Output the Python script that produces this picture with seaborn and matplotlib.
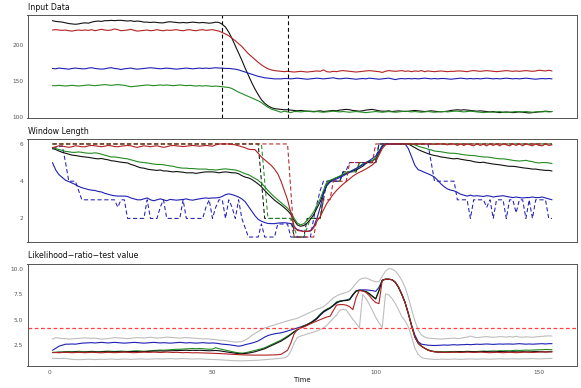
import matplotlib
matplotlib.use("Agg")
import matplotlib.pyplot as plt
import seaborn as sns

sns.set_theme(style="white")
plt.rcParams['font.family'] = ['DejaVu Sans']

time = list(range(1, 155))

# ---------------- Input Data ----------------
top_black = [
    234, 233, 232.5, 232, 231, 230, 229.5, 229, 229.5, 230.5,
    231, 230.5, 232, 233, 233.5, 233, 234, 234, 234.5, 234,
    234.5, 234.5, 234, 233.5, 234, 233, 233.5, 233, 232, 232,
    231.5, 232, 231.5, 231, 231, 232, 232.5, 232, 231.5, 231,
    231.5, 231, 231.5, 232, 231.5, 231, 231.5, 231, 230.5, 231,
    232, 231.5, 229, 225, 218, 209, 199, 189, 179, 168,
    158, 148, 139, 131, 124, 119, 115.5, 113, 111.5, 111,
    110.5, 110, 110, 109.5, 109, 108.5, 109, 108.5, 108, 108,
    107.5, 108, 108.5, 107.5, 108, 108.5, 109, 108.5, 109.5, 110,
    110.5, 110, 109, 108.5, 108, 108.5, 109.5, 110, 110.5, 109.5,
    108.5, 108, 108, 108.5, 107.5, 108, 108.5, 108, 107.5, 108,
    108.5, 109, 108.5, 108, 107.5, 108, 108.5, 108, 107.5, 107,
    107.5, 108, 109, 109.5, 110, 109.5, 110, 109.5, 109, 108.5,
    108, 108.5, 108, 107.5, 107, 107.5, 106.5, 106, 106.5, 107,
    106.5, 106, 106.5, 107, 106.5, 106, 105.5, 106, 106.5, 107,
    107.5, 108, 107.5, 107.5]
top_red = [
    221, 221.5, 221, 220.5, 221, 220, 219.5, 220.5, 221, 220.5,
    221, 220.5, 221.5, 220, 221, 222, 221, 220.5, 221, 222.5,
    221.5, 220, 220.5, 221, 222, 220.5, 219.5, 220, 220.5, 221,
    220, 220.5, 221.5, 220.5, 220, 221, 220.5, 221, 221.5, 220.5,
    220, 221, 221.5, 220.5, 220, 221, 221.5, 220.5, 221, 221.5,
    220.5, 219.5, 217.5, 215.5, 213, 209.5, 206, 202, 198, 193,
    188, 184, 180, 176, 172.5, 169.5, 167, 165.5, 164.5, 164,
    163.5, 163, 163.5, 163, 162.5, 163, 163.5, 163, 162.5, 163,
    163.5, 164, 163.5, 165.5, 163, 162.5, 163.5, 163, 164, 164.5,
    164, 163.5, 163, 162.5, 163, 163.5, 164, 164.5, 164, 163.5,
    163, 162, 163.5, 164.5, 164, 163.5, 164, 164.5, 163.5, 164,
    163, 164, 163.5, 164.5, 163, 164, 163.5, 163, 163.5, 164,
    163.5, 163, 163.5, 163.5, 164, 164, 163.5, 163, 164, 164.5,
    164, 163.5, 164, 164.5, 164, 163.5, 163, 163.5, 164, 164.5,
    164, 163.5, 164, 163.5, 164, 164.5, 164, 163.5, 164, 165,
    164.5, 164, 165, 164]
top_blue = [
    167.5, 167, 168, 167.5, 167, 166.5, 167.5, 168, 167.5, 167,
    167, 168, 168.5, 167.5, 167, 166.5, 167, 168, 168.5, 167.5,
    167, 166, 167, 167.5, 168, 167, 166.5, 167, 167.5, 168,
    168.5, 168, 167.5, 167, 167.5, 168, 167.5, 167, 166.5, 167,
    167.5, 168, 167.5, 167, 167.5, 168, 167.5, 168, 167.5, 168,
    168.5, 168, 168, 167.5, 167.5, 167, 166.5, 165.5, 164, 162.5,
    161, 159.5, 158, 156.5, 155.5, 154.5, 154, 153.5, 153, 153,
    153, 153.5, 153.5, 153, 153.5, 154, 153.5, 153, 152.5, 153,
    153.5, 154, 153.5, 153, 153.5, 154, 154.5, 153.5, 153, 153.5,
    154, 153.5, 153, 152.5, 153, 153.5, 153, 154, 153.5, 153,
    152.5, 153, 153.5, 154, 153, 152, 153, 153.5, 153, 153.5,
    153, 153.5, 153, 153.5, 154, 153.5, 153, 153.5, 153, 153.5,
    153.5, 153, 152.5, 153, 153.5, 154, 153.5, 153, 153.5, 153,
    153.5, 153, 153.5, 154, 153.5, 153, 153.5, 153, 153.5, 154,
    153.5, 153, 153.5, 153, 153.5, 154, 153.5, 153, 152.5, 153,
    153.5, 153, 153.5, 153]
top_green = [
    143.5, 143.5, 144, 143.5, 143, 143.5, 144, 143.5, 143, 143.5,
    144, 144.5, 144, 143.5, 144, 144.5, 145, 144.5, 144, 144.5,
    145, 144.5, 144, 143, 142, 142.5, 143, 143.5, 144, 144.5,
    144, 143.5, 144, 144.5, 144, 144.5, 144, 143.5, 144, 144.5,
    144, 143.5, 144, 143.5, 143, 143.5, 143, 143.5, 143, 142.5,
    143, 142.5, 142, 141.5, 141, 139.5, 137, 134.5, 132.5, 130.5,
    128.5, 126.5, 124.5, 122.5, 120, 116.5, 113.5, 111, 109.5, 108,
    106.5, 108, 107, 106, 107.5, 107.5, 107, 107.5, 108, 107.5,
    107, 107.5, 107, 106.5, 107, 107.5, 108, 107.5, 107, 107.5,
    107, 106.5, 107, 107.5, 107, 106.5, 106, 106.5, 107, 107.5,
    107, 106.5, 107, 107.5, 107, 106.5, 107, 107.5, 108, 107.5,
    107, 107.5, 107, 106.5, 107, 107.5, 107, 106.5, 107, 107.5,
    107.5, 107, 107.5, 108, 108, 107.5, 107, 107.5, 108, 107.5,
    107, 106.5, 106, 106.5, 107, 106.5, 107, 107.5, 106.5, 106,
    106.5, 107, 107.5, 107, 107, 107.5, 107, 106.5, 107, 107.5,
    107, 107.5, 107, 107.5]
change_points = [53, 73]

# ---------------- Window Length ----------------
mid_black = [
    5.75, 5.7, 5.62, 5.55, 5.5, 5.45, 5.4, 5.38, 5.35, 5.32,
    5.3, 5.28, 5.25, 5.22, 5.2, 5.22, 5.18, 5.15, 5.1, 5.08,
    5.05, 5.02, 5.0, 4.98, 4.9, 4.85, 4.78, 4.72, 4.7, 4.65,
    4.62, 4.6, 4.58, 4.6, 4.55, 4.55, 4.52, 4.5, 4.52, 4.5,
    4.48, 4.45, 4.45, 4.45, 4.42, 4.45, 4.48, 4.5, 4.5, 4.5,
    4.48, 4.45, 4.48, 4.5, 4.48, 4.45, 4.45, 4.4, 4.3, 4.22,
    4.18, 4.1, 3.98, 3.85, 3.7, 3.5, 3.32, 3.15, 2.98, 2.85,
    2.72, 2.58, 2.42, 2.22, 1.9, 1.65, 1.58, 1.62, 1.75, 1.95,
    2.2, 2.55, 2.9, 3.35, 3.8, 4.0, 4.1, 4.18, 4.25, 4.35,
    4.42, 4.5, 4.55, 4.6, 4.7, 4.8, 4.95, 5.05, 5.1, 5.2,
    5.5, 5.85, 6.0, 6.0, 6.0, 6.0, 6.0, 6.0, 6.0, 6.0,
    5.9, 5.8, 5.7, 5.62, 5.55, 5.48, 5.42, 5.38, 5.35, 5.3,
    5.28, 5.25, 5.22, 5.2, 5.22, 5.18, 5.15, 5.12, 5.1, 5.05,
    5.02, 5.0, 5.02, 4.98, 4.95, 4.92, 4.9, 4.88, 4.85, 4.82,
    4.8, 4.8, 4.78, 4.75, 4.72, 4.7, 4.68, 4.65, 4.65, 4.62,
    4.6, 4.58, 4.58, 4.55]
mid_green = [
    5.8, 5.75, 5.7, 5.65, 5.6, 5.58, 5.55, 5.55, 5.57, 5.55,
    5.52, 5.5, 5.5, 5.52, 5.5, 5.45, 5.4, 5.35, 5.3, 5.3,
    5.28, 5.25, 5.22, 5.2, 5.15, 5.1, 5.05, 5.02, 5.0, 4.98,
    4.95, 4.92, 4.9, 4.9, 4.88, 4.85, 4.82, 4.8, 4.75, 4.72,
    4.7, 4.7, 4.68, 4.68, 4.66, 4.65, 4.65, 4.65, 4.62, 4.62,
    4.6, 4.62, 4.65, 4.66, 4.64, 4.62, 4.6, 4.55, 4.48, 4.4,
    4.35, 4.25, 4.15, 4.05, 3.9, 3.7, 3.5, 3.32, 3.15, 3.0,
    2.85, 2.7, 2.55, 2.35, 2.0, 1.75, 1.65, 1.72, 1.9, 2.1,
    2.35, 2.7, 3.05, 3.5, 3.9, 4.05, 4.12, 4.2, 4.28, 4.38,
    4.45, 4.52, 4.6, 4.68, 4.8, 4.92, 5.02, 5.08, 5.12, 5.25,
    5.6, 5.9, 6.0, 6.0, 6.0, 6.0, 6.0, 6.0, 6.0, 6.0,
    6.0, 5.95, 5.88, 5.82, 5.78, 5.72, 5.68, 5.62, 5.6, 5.58,
    5.55, 5.52, 5.5, 5.5, 5.48, 5.45, 5.42, 5.4, 5.38, 5.38,
    5.35, 5.32, 5.3, 5.3, 5.28, 5.25, 5.22, 5.2, 5.2, 5.18,
    5.15, 5.12, 5.1, 5.08, 5.1, 5.12, 5.08, 5.05, 5.0, 4.98,
    5.0, 5.0, 4.98, 4.95]
mid_blue = [
    5.0, 4.6, 4.35, 4.2, 4.05, 3.98, 3.9, 3.82, 3.72, 3.65,
    3.6, 3.55, 3.52, 3.5, 3.45, 3.42, 3.35, 3.3, 3.25, 3.22,
    3.2, 3.2, 3.2, 3.18, 3.1, 3.05, 3.0, 3.0, 3.05, 3.1,
    3.0, 2.95, 3.0, 3.05, 3.0, 2.95, 3.02, 3.0, 2.98, 3.0,
    3.02, 3.05, 3.0, 2.98, 3.02, 3.05, 3.08, 3.1, 3.08, 3.1,
    3.1, 3.12, 3.18, 3.28, 3.32, 3.28, 3.22, 3.15, 3.05, 2.9,
    2.65, 2.4, 2.15, 1.95, 1.85, 1.78, 1.73, 1.72, 1.72, 1.75,
    1.76, 1.77, 1.75, 1.72, 1.5, 1.4, 1.35, 1.3, 1.3, 1.35,
    1.55, 2.0, 2.6, 3.3, 3.75, 3.95, 4.05, 4.12, 4.2, 4.28,
    4.38, 4.48, 4.58, 4.68, 4.78, 4.88, 4.98, 5.1, 5.22, 5.35,
    5.6, 5.9, 6.0, 6.0, 6.0, 6.0, 6.0, 6.0, 6.0, 5.75,
    5.3, 4.85, 4.62, 4.55, 4.47, 4.4, 4.32, 4.22, 4.05, 3.85,
    3.7, 3.58, 3.52, 3.48, 3.4, 3.3, 3.25, 3.2, 3.25, 3.2,
    3.22, 3.2, 3.18, 3.22, 3.2, 3.15, 3.18, 3.2, 3.22, 3.18,
    3.15, 3.12, 3.15, 3.12, 3.1, 3.12, 3.12, 3.15, 3.12, 3.12,
    3.15, 3.1, 3.05, 3.0]
mid_red = [
    5.8, 5.85, 5.9, 5.88, 5.85, 5.82, 5.85, 5.9, 5.88, 5.85,
    5.85, 5.9, 5.92, 5.9, 5.88, 5.85, 5.88, 5.92, 5.9, 5.86,
    5.85, 5.88, 5.9, 5.92, 5.9, 5.85, 5.82, 5.86, 5.9, 5.88,
    5.85, 5.88, 5.9, 5.86, 5.82, 5.85, 5.9, 5.92, 5.9, 5.88,
    5.86, 5.88, 5.9, 5.92, 5.9, 5.88, 5.9, 5.92, 5.9, 5.88,
    5.95, 6.0, 6.0, 6.0, 6.0, 5.98, 5.95, 5.9, 5.85, 5.8,
    5.72, 5.7, 5.7, 5.5, 5.3, 5.15, 5.0, 4.85, 4.65, 4.4,
    4.0, 3.5, 3.0, 2.3, 1.6, 1.35, 1.33, 1.3, 1.3, 1.32,
    1.5, 1.85, 2.1, 2.45, 2.8, 3.05, 3.3, 3.5, 3.68, 3.84,
    3.98, 4.12, 4.27, 4.38, 4.48, 4.56, 4.66, 4.76, 4.88, 5.05,
    5.4, 5.75, 5.95, 6.0, 6.0, 6.0, 6.0, 6.0, 6.0, 6.0,
    6.0, 6.0, 6.0, 6.0, 6.0, 6.0, 6.0, 5.98, 6.0, 6.0,
    6.0, 5.95, 6.0, 6.0, 5.92, 6.0, 5.92, 6.0, 5.95, 5.9,
    6.0, 5.92, 5.98, 5.9, 6.0, 5.92, 6.0, 5.9, 6.0, 5.95,
    5.9, 6.0, 5.92, 6.0, 5.9, 6.0, 5.95, 5.9, 6.0, 5.92,
    5.9, 6.0, 5.92, 5.95]
mid_red_dash = [
    6, 6, 6, 6, 6, 6, 6, 6, 6, 6,
    6, 6, 6, 6, 6, 6, 6, 6, 6, 6,
    6, 6, 6, 6, 6, 6, 6, 6, 6, 6,
    6, 6, 6, 6, 6, 6, 6, 6, 6, 6,
    6, 6, 6, 6, 6, 6, 6, 6, 6, 6,
    6, 6, 6, 6, 6, 6, 6, 6, 6, 6,
    6, 6, 6, 6, 6, 6, 6, 6, 6, 6,
    6, 6, 6, 3.5, 1, 1, 1, 1, 1, 1,
    1, 2, 2, 3, 3, 3, 4, 4, 4, 4,
    4, 5, 5, 5, 5, 5, 5, 5, 5, 6,
    6, 6, 6, 6, 6, 6, 6, 6, 6, 6,
    6, 6, 6, 6, 6, 6, 6, 6, 6, 6,
    6, 6, 6, 6, 6, 6, 6, 6, 6, 6,
    6, 6, 6, 6, 6, 6, 6, 6, 6, 6,
    6, 6, 6, 6, 6, 6, 6, 6, 6, 6,
    6, 6, 6, 6]
mid_black_dash = [
    6, 6, 6, 6, 6, 6, 6, 6, 6, 6,
    6, 6, 6, 6, 6, 6, 6, 6, 6, 6,
    6, 6, 6, 6, 6, 6, 6, 6, 6, 6,
    6, 6, 6, 6, 6, 6, 6, 6, 6, 6,
    6, 6, 6, 6, 6, 6, 6, 6, 6, 6,
    6, 6, 6, 6, 6, 6, 6, 6, 6, 6,
    6, 6, 6, 6, 4, 2, 2, 2, 2, 2,
    2, 2, 2, 2, 1, 1, 1, 1, 2, 2,
    2, 2, 2, 3, 4, 4, 4, 4, 4, 4.5,
    4.5, 4.5, 4.5, 4.5, 5, 5, 5, 5, 5, 5,
    6, 6, 6, 6, 6, 6, 6, 6, 6, 6,
    6, 6, 6, 6, 6, 6, 6, 6, 6, 6,
    6, 6, 6, 6, 6, 6, 6, 6, 6, 6,
    6, 6, 6, 6, 6, 6, 6, 6, 6, 6,
    6, 6, 6, 6, 6, 6, 6, 6, 6, 6,
    6, 6, 6, 6]
mid_green_dash = [
    6, 6, 6, 6, 6, 6, 6, 6, 6, 6,
    6, 6, 6, 6, 6, 6, 6, 6, 6, 6,
    6, 6, 6, 6, 6, 6, 6, 6, 6, 6,
    6, 6, 6, 6, 6, 6, 6, 6, 6, 6,
    6, 6, 6, 6, 6, 6, 6, 6, 6, 6,
    6, 6, 6, 6, 6, 6, 6, 6, 6, 6,
    6, 6, 6, 6, 6, 4, 2, 2, 2, 2,
    2, 2, 2, 2, 1.5, 1, 1, 1, 1.5, 2,
    2, 2, 2, 3.5, 4, 4, 4, 4, 4, 4.5,
    4.5, 4.5, 4.5, 4.5, 5, 5, 5, 5, 5, 5,
    6, 6, 6, 6, 6, 6, 6, 6, 6, 6,
    6, 6, 6, 6, 6, 6, 6, 6, 6, 6,
    6, 6, 6, 6, 6, 6, 6, 6, 6, 6,
    6, 6, 6, 6, 6, 6, 6, 6, 6, 6,
    6, 6, 6, 6, 6, 6, 6, 6, 6, 6,
    6, 6, 6, 6]
mid_blue_dash = [
    5.75, 5.8, 5.85, 5.9, 5.0, 4.0, 4.0, 4.0, 3.5, 3.0,
    3, 3, 3, 3, 3, 3, 3, 3, 3, 3,
    2.6, 3, 3, 2, 2, 2, 2, 2, 2, 3,
    2, 2, 2, 2.6, 3, 2, 2, 2, 2, 2,
    3, 2, 2, 2, 2, 2, 2, 2.6, 3, 2,
    2.6, 3, 3, 2, 3, 2.6, 2, 3, 2, 1.5,
    1, 1, 1, 1, 1.7, 1, 1, 1, 1, 1.7,
    1.7, 1.7, 1.7, 1, 1, 1, 1, 1, 1, 1,
    2, 2.8, 3.5, 4, 4, 4, 4, 4, 4, 4.5,
    4.6, 5, 5, 5, 5, 5, 5, 5, 5, 5,
    6, 6, 6, 6, 6, 6, 6, 6, 6, 6,
    6, 6, 6, 6, 6, 6, 5, 4, 4, 4,
    4, 4, 4, 4, 3, 3, 3, 3, 2, 3,
    3, 3, 3, 2.6, 3, 2, 3, 3, 3, 2,
    3, 3, 2.3, 3, 3, 2, 3, 2, 3, 3,
    3, 3, 2, 2]

# ---------------- Likelihood-ratio-test value ----------------
bot_blue = [
    2.0, 2.2, 2.4, 2.5, 2.6, 2.6, 2.62, 2.6, 2.65, 2.7,
    2.72, 2.75, 2.75, 2.72, 2.75, 2.78, 2.75, 2.72, 2.75, 2.78,
    2.75, 2.72, 2.7, 2.72, 2.75, 2.78, 2.75, 2.72, 2.7, 2.72,
    2.75, 2.78, 2.75, 2.72, 2.75, 2.72, 2.7, 2.72, 2.75, 2.78,
    2.75, 2.72, 2.75, 2.72, 2.7, 2.72, 2.75, 2.72, 2.7, 2.72,
    2.7, 2.65, 2.6, 2.58, 2.55, 2.5, 2.45, 2.4, 2.45, 2.55,
    2.62, 2.7, 2.8, 2.92, 3.1, 3.3, 3.45, 3.55, 3.62, 3.67,
    3.72, 3.8, 3.9, 4.0, 4.1, 4.2, 4.3, 4.42, 4.55, 4.7,
    4.85, 5.1, 5.45, 5.75, 5.95, 6.15, 6.4, 6.65, 6.82, 6.9,
    6.95, 7.05, 7.45, 7.85, 7.95, 7.95, 7.95, 7.92, 7.88, 7.8,
    8.2, 8.9, 9.0, 9.0, 8.95, 8.7, 8.2, 7.5, 6.7, 5.6,
    4.45, 3.5, 2.85, 2.6, 2.55, 2.5, 2.48, 2.47, 2.48, 2.5,
    2.52, 2.5, 2.52, 2.55, 2.52, 2.55, 2.55, 2.58, 2.55, 2.58,
    2.6, 2.58, 2.6, 2.62, 2.6, 2.58, 2.6, 2.62, 2.6, 2.62,
    2.62, 2.6, 2.62, 2.65, 2.62, 2.6, 2.62, 2.6, 2.62, 2.65,
    2.65, 2.62, 2.65, 2.65]
bot_green = [
    1.78, 1.8, 1.82, 1.85, 1.85, 1.88, 1.85, 1.88, 1.9, 1.88,
    1.85, 1.88, 1.9, 1.88, 1.85, 1.88, 1.9, 1.92, 1.9, 1.88,
    1.9, 1.92, 1.9, 1.88, 1.9, 1.92, 1.95, 1.92, 1.9, 1.92,
    1.95, 1.98, 2.0, 2.02, 2.0, 2.02, 2.05, 2.08, 2.1, 2.1,
    2.12, 2.15, 2.15, 2.18, 2.15, 2.18, 2.15, 2.12, 2.1, 2.12,
    2.25, 2.15, 2.08, 2.0, 1.95, 1.88, 1.8, 1.75, 1.72, 1.75,
    1.82, 1.9, 1.98, 2.05, 2.15, 2.25, 2.4, 2.55, 2.7, 2.85,
    3.0, 3.2, 3.4, 3.6, 3.85, 4.05, 4.25, 4.4, 4.55, 4.72,
    4.95, 5.2, 5.55, 5.85, 6.05, 6.2, 6.45, 6.75, 6.85, 6.9,
    6.92, 7.0, 7.5, 7.85, 7.9, 7.88, 7.8, 7.6, 7.35, 7.1,
    7.9, 8.9, 9.0, 9.0, 8.95, 8.7, 8.2, 7.5, 6.7, 5.6,
    4.4, 3.3, 2.7, 2.4, 2.2, 2.05, 1.95, 1.88, 1.85, 1.85,
    1.85, 1.86, 1.85, 1.88, 1.86, 1.85, 1.88, 1.9, 1.88, 1.86,
    1.88, 1.9, 1.92, 1.9, 1.92, 1.94, 1.92, 1.95, 1.94, 1.96,
    1.95, 1.98, 2.0, 1.98, 2.0, 2.02, 2.0, 2.02, 2.05, 2.05,
    2.05, 2.08, 2.06, 2.05]
bot_black = [
    1.78, 1.78, 1.8, 1.8, 1.82, 1.8, 1.82, 1.84, 1.82, 1.8,
    1.82, 1.84, 1.85, 1.84, 1.82, 1.84, 1.86, 1.85, 1.84, 1.85,
    1.86, 1.85, 1.84, 1.85, 1.86, 1.88, 1.86, 1.85, 1.86, 1.88,
    1.9, 1.92, 1.92, 1.94, 1.92, 1.94, 1.95, 1.96, 1.98, 1.98,
    2.0, 2.0, 1.98, 2.0, 1.98, 2.0, 1.98, 1.96, 1.95, 1.96,
    1.98, 1.95, 1.9, 1.85, 1.8, 1.75, 1.7, 1.66, 1.65, 1.68,
    1.72, 1.78, 1.85, 1.95, 2.05, 2.15, 2.3, 2.45, 2.6, 2.75,
    2.9, 3.1, 3.3, 3.55, 3.8, 4.0, 4.2, 4.35, 4.5, 4.68,
    4.9, 5.15, 5.5, 5.8, 6.0, 6.15, 6.4, 6.7, 6.82, 6.88,
    6.9, 6.98, 7.45, 7.82, 7.9, 7.85, 7.78, 7.58, 7.3, 7.05,
    7.85, 8.9, 9.0, 9.0, 8.95, 8.7, 8.2, 7.5, 6.7, 5.6,
    4.4, 3.3, 2.7, 2.4, 2.2, 2.02, 1.92, 1.85, 1.82, 1.82,
    1.8, 1.82, 1.84, 1.82, 1.85, 1.86, 1.84, 1.86, 1.88, 1.85,
    1.84, 1.86, 1.88, 1.86, 1.85, 1.84, 1.86, 1.88, 1.86, 1.85,
    1.84, 1.86, 1.85, 1.84, 1.86, 1.85, 1.84, 1.86, 1.88, 1.86,
    1.85, 1.84, 1.86, 1.85]
bot_red = [
    1.78, 1.78, 1.76, 1.78, 1.8, 1.78, 1.76, 1.78, 1.8, 1.78,
    1.76, 1.78, 1.8, 1.78, 1.76, 1.75, 1.78, 1.8, 1.78, 1.76,
    1.78, 1.8, 1.82, 1.8, 1.78, 1.76, 1.78, 1.8, 1.82, 1.8,
    1.8, 1.82, 1.8, 1.78, 1.8, 1.82, 1.8, 1.78, 1.8, 1.78,
    1.76, 1.78, 1.76, 1.75, 1.76, 1.75, 1.74, 1.72, 1.72, 1.7,
    1.7, 1.68, 1.66, 1.65, 1.62, 1.6, 1.58, 1.56, 1.55, 1.54,
    1.54, 1.52, 1.52, 1.53, 1.52, 1.52, 1.53, 1.54, 1.55, 1.56,
    1.6, 1.8, 2.0, 2.7, 3.6, 4.05, 4.2, 4.3, 4.45, 4.6,
    4.75, 4.88, 5.0, 5.15, 5.28, 5.35, 5.9, 6.45, 6.5, 6.5,
    6.45, 6.3, 6.0, 7.2, 7.9, 7.85, 7.7, 7.4, 7.0, 6.7,
    6.6, 8.9, 9.0, 9.0, 8.95, 8.7, 8.2, 7.5, 6.7, 5.6,
    4.4, 3.3, 2.7, 2.4, 2.2, 2.0, 1.9, 1.85, 1.82, 1.8,
    1.8, 1.78, 1.8, 1.82, 1.8, 1.78, 1.8, 1.82, 1.8, 1.78,
    1.8, 1.82, 1.8, 1.78, 1.76, 1.78, 1.8, 1.78, 1.76, 1.78,
    1.8, 1.78, 1.76, 1.78, 1.8, 1.82, 1.8, 1.78, 1.8, 1.82,
    1.84, 1.82, 1.84, 1.85]
bot_upper = [
    3.1, 3.25, 3.2, 3.15, 3.15, 3.1, 3.12, 3.15, 3.18, 3.2,
    3.22, 3.2, 3.18, 3.2, 3.15, 3.1, 3.12, 3.15, 3.2, 3.25,
    3.22, 3.2, 3.18, 3.15, 3.18, 3.2, 3.25, 3.22, 3.2, 3.25,
    3.28, 3.25, 3.2, 3.22, 3.25, 3.3, 3.28, 3.25, 3.22, 3.2,
    3.22, 3.25, 3.22, 3.2, 3.18, 3.15, 3.12, 3.15, 3.1, 3.08,
    3.05, 3.0, 2.98, 2.95, 2.9, 2.85, 2.8, 2.82, 2.85, 3.0,
    3.2, 3.45, 3.65, 3.85, 4.05, 4.2, 4.3, 4.4, 4.5, 4.6,
    4.7, 4.8, 4.9, 4.98, 5.05, 5.15, 5.3, 5.45, 5.6, 5.75,
    5.9, 6.05, 6.15, 6.3, 6.55, 6.85, 7.15, 7.35, 7.5, 7.6,
    7.7, 7.85, 8.2, 8.6, 8.95, 9.1, 9.12, 9.0, 8.85, 8.75,
    8.75, 9.3, 9.8, 10.05, 10.0, 9.8, 9.4, 8.9, 8.2, 7.2,
    6.0, 4.9, 4.0, 3.5, 3.3, 3.2, 3.18, 3.15, 3.12, 3.1,
    3.12, 3.15, 3.18, 3.2, 3.15, 3.18, 3.25, 3.3, 3.4, 3.3,
    3.25, 3.28, 3.3, 3.35, 3.3, 3.28, 3.3, 3.35, 3.32, 3.3,
    3.35, 3.3, 3.38, 3.3, 3.28, 3.32, 3.3, 3.28, 3.32, 3.35,
    3.38, 3.4, 3.42, 3.4]
bot_lower = [
    1.2, 1.2, 1.18, 1.2, 1.2, 1.15, 1.1, 1.08, 1.07, 1.08,
    1.1, 1.12, 1.1, 1.08, 1.1, 1.12, 1.1, 1.12, 1.14, 1.12,
    1.1, 1.12, 1.14, 1.12, 1.1, 1.12, 1.14, 1.15, 1.14, 1.12,
    1.14, 1.15, 1.16, 1.15, 1.14, 1.16, 1.18, 1.16, 1.15, 1.16,
    1.18, 1.16, 1.15, 1.14, 1.15, 1.16, 1.14, 1.12, 1.1, 1.1,
    1.08, 1.06, 1.05, 1.02, 1.0, 0.98, 0.97, 0.96, 0.96, 0.97,
    0.98, 0.98, 1.0, 1.02, 1.05, 1.08, 1.1, 1.12, 1.15, 1.18,
    1.2, 1.25, 1.4, 1.9, 2.7, 3.25, 3.4, 3.5, 3.6, 3.7,
    3.8, 3.9, 4.05, 4.2, 4.45, 4.8, 5.15, 5.45, 5.95, 6.05,
    5.95, 5.5, 5.05, 4.65, 4.2, 7.5, 7.1, 6.55, 5.9, 5.25,
    4.7, 4.25, 7.55, 7.45, 7.1, 6.6, 6.0, 5.3, 4.9, 4.3,
    3.3, 2.2, 1.6, 1.3, 1.2, 1.15, 1.12, 1.1, 1.1, 1.12,
    1.12, 1.1, 1.12, 1.14, 1.12, 1.1, 1.12, 1.14, 1.15, 1.14,
    1.12, 1.14, 1.15, 1.14, 1.12, 1.14, 1.15, 1.16, 1.15, 1.14,
    1.15, 1.16, 1.15, 1.14, 1.16, 1.15, 1.16, 1.18, 1.16, 1.15,
    1.16, 1.18, 1.18, 1.2]
threshold = 4.18

titles = ["Input Data", "Window Length", "Likelihood\u2212ratio\u2212test value"]
x_label = "Time"
x_ticks = [0, 50, 100, 150]
top_ticks = [100, 150, 200]
mid_ticks = [2, 4, 6]
bot_ticks = [2.5, 5.0, 7.5, 10.0]
bot_tick_labels = ["2.5", "5.0", "7.5", "10.0"]

C_BLACK = "#111111"
C_RED = "#b22222"
C_BLUE = "#1f1fb4"
C_GREEN = "#228b22"
C_GRAY = "#bdbdbd"

W_PX, H_PX = 581, 388
fig = plt.figure(figsize=(W_PX / 100, H_PX / 100), dpi=100)
left_px, right_px = 27.5, 577


def add_panel(top, bottom):
    return fig.add_axes([left_px / W_PX, 1 - bottom / H_PX,
                         (right_px - left_px) / W_PX, (bottom - top) / H_PX])


ax1 = add_panel(15.3, 118)
ax2 = add_panel(139.3, 241.7)
ax3 = add_panel(264, 366)

LW = 0.8
DASH = (0, (4, 2.5))


def line(ax, y, color, ls="-", lw=LW):
    sns.lineplot(x=time, y=y, ax=ax, color=color, linewidth=lw,
                 linestyle=ls, errorbar=None)


# top
line(ax1, top_black, C_BLACK)
line(ax1, top_red, C_RED)
line(ax1, top_blue, C_BLUE)
line(ax1, top_green, C_GREEN)
for cp in change_points:
    ax1.axvline(cp, color="black", linewidth=0.8, linestyle=(0, (3.5, 2.5)))

# middle
line(ax2, mid_black_dash, C_BLACK, DASH, 0.75)
line(ax2, mid_green_dash, C_GREEN, DASH, 0.75)
line(ax2, mid_blue_dash, C_BLUE, DASH, 0.75)
line(ax2, mid_black, C_BLACK)
line(ax2, mid_green, C_GREEN)
line(ax2, mid_blue, C_BLUE)
line(ax2, mid_red, C_RED)
line(ax2, mid_red_dash, C_RED, DASH, 0.75)

# bottom
line(ax3, bot_upper, C_GRAY)
line(ax3, bot_lower, C_GRAY)
line(ax3, bot_blue, C_BLUE)
line(ax3, bot_green, C_GREEN)
line(ax3, bot_black, C_BLACK)
line(ax3, bot_red, C_RED)
ax3.axhline(threshold, color="#ff4040", linewidth=0.9, linestyle=(0, (3, 2)))

for ax in (ax1, ax2, ax3):
    ax.set_xlim(-6.65, 161.65)
    ax.set_xlabel("")
    ax.set_ylabel("")
    ax.grid(False)
    for sp in ax.spines.values():
        sp.set_color("#555555")
        sp.set_linewidth(0.7)
    ax.tick_params(axis="both", labelsize=4.2, labelcolor="#555555",
                   color="#555555", length=2, width=0.5, pad=1)

ax1.set_ylim(98.5, 241.5)
ax2.set_ylim(0.75, 6.25)
ax3.set_ylim(0.45, 10.5)
ax1.set_yticks(top_ticks)
ax2.set_yticks(mid_ticks)
ax3.set_yticks(bot_ticks)
ax3.set_yticklabels(bot_tick_labels)
ax1.set_xticks([])
ax2.set_xticks([])
ax3.set_xticks(x_ticks)

title_y = [7.5, 131, 255.3]
for t, yp in zip(titles, title_y):
    fig.text(left_px / W_PX, 1 - yp / H_PX, t, fontsize=5.7, ha="left",
             va="center", color="#111111")
fig.text(302 / W_PX, 1 - 380 / H_PX, x_label, fontsize=4.9, ha="center",
         va="center", color="#111111")

fig.savefig("out.png", dpi=100)
